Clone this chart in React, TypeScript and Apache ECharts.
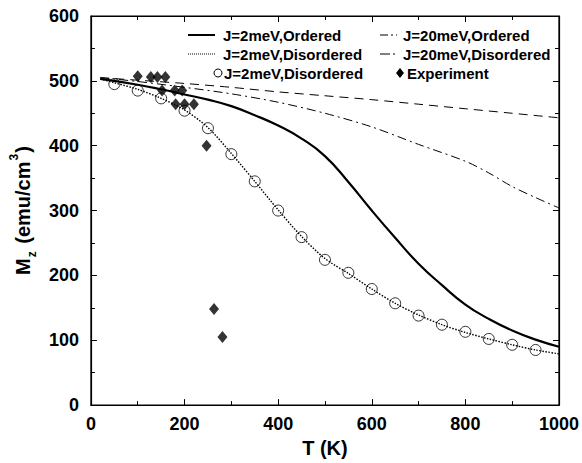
import React, { useEffect, useRef } from "react";
import * as echarts from "echarts";

// ---- data ----
const T_J2_ORD = [20, 100, 150, 200, 250, 300, 350, 400, 450, 500, 550, 600, 650, 700, 750, 800, 850, 900, 950, 1000];
const M_J2_ORD = [503, 494, 487, 479, 471, 461, 447, 431, 411, 384, 344, 300, 258, 218, 185, 155, 133, 115, 101, 90];

const T_J2_DIS = [20, 50, 100, 150, 200, 250, 300, 350, 400, 450, 500, 550, 600, 650, 700, 750, 800, 850, 900, 950, 1000];
const M_J2_DIS = [503, 497, 487, 473, 455, 428, 388, 345, 301, 260, 226, 203, 179, 157, 139, 124, 112, 102, 93, 85, 79];

const T_J20_ORD = [20, 100, 200, 300, 400, 500, 600, 700, 800, 900, 1000];
const M_J20_ORD = [505, 501, 496, 490, 483, 477, 471, 464, 457, 450, 443];

const T_J20_DIS = [20, 100, 200, 300, 400, 500, 600, 700, 800, 850, 900, 950, 1000];
const M_J20_DIS = [505, 499, 490, 480, 467, 450, 429, 402, 376, 358, 337, 320, 304];

const T_CIRCLES = [50, 100, 150, 200, 250, 300, 350, 400, 450, 500, 550, 600, 650, 700, 750, 800, 850, 900, 950];
const M_CIRCLES = [495, 485, 473, 454, 427, 387, 345, 300, 259, 224, 204, 179, 157, 138, 124, 113, 102, 93, 85];

const T_EXP = [100, 128, 142, 159, 152, 179, 195, 181, 200, 220, 247, 263, 281];
const M_EXP = [507, 506, 506, 506, 485, 485, 485, 464, 464, 464, 400, 148, 105];

const X_TICKS = { min: 0, max: 1000, interval: 200 };
const Y_TICKS = { min: 0, max: 600, interval: 100 };

const LEGEND_NAMES = [
  "J=2meV,Ordered",
  "J=2meV,Disordered",
  "J=2meV,Disordered",
  "J=20meV,Ordered",
  "J=20meV,Disordered",
  "Experiment",
];

const FONT = "'Liberation Sans', Arial, Helvetica, sans-serif";

const zip = (xs: number[], ys: number[]) => xs.map((x, i) => [x, ys[i]]);

export default function App() {
  const ref = useRef<HTMLDivElement>(null);

  useEffect(() => {
    document.body.style.margin = "0";
    if (!ref.current) return;
    const chart = echarts.init(ref.current, undefined, { renderer: "svg" });

    const axisCommon = {
      type: "value" as const,
      axisLine: { show: true, onZero: false, lineStyle: { color: "#000", width: 1.2 } },
      axisTick: { show: true, inside: true, length: 6, lineStyle: { color: "#000", width: 1 } },
      minorTick: { show: true, splitNumber: 2, length: 4, lineStyle: { color: "#000", width: 1 } },
      splitLine: { show: false },
      minorSplitLine: { show: false },
    };

    const labelStyle = {
      color: "#000",
      fontSize: 18,
      fontWeight: "bold" as const,
      fontFamily: FONT,
      formatter: (v: number) => String(v),
    };

    const legendRow = [35, 54, 73];
    const legendText = (x: number, y: number, text: string) => ({
      type: "text",
      x,
      y,
      style: {
        text,
        fill: "#000",
        font: `bold 15px ${FONT}`,
        textVerticalAlign: "middle",
        textAlign: "left",
      },
    });

    const graphic: any[] = [
      // column 1
      { type: "line", shape: { x1: 188, y1: legendRow[0], x2: 215, y2: legendRow[0] }, style: { stroke: "#000", lineWidth: 2 } },
      legendText(223, legendRow[0], LEGEND_NAMES[0]),
      { type: "line", shape: { x1: 188, y1: legendRow[1], x2: 215, y2: legendRow[1] }, style: { stroke: "#000", lineWidth: 1.2, lineDash: [1, 1] } },
      legendText(223, legendRow[1], LEGEND_NAMES[1]),
      { type: "circle", shape: { cx: 218, cy: legendRow[2], r: 4 }, style: { fill: "#fff", stroke: "#000", lineWidth: 1 } },
      legendText(224, legendRow[2], LEGEND_NAMES[2]),
      // column 2
      { type: "line", shape: { x1: 380, y1: legendRow[0], x2: 397, y2: legendRow[0] }, style: { stroke: "#000", lineWidth: 1, lineDash: [8, 3, 2, 3] } },
      legendText(403, legendRow[0], LEGEND_NAMES[3]),
      { type: "line", shape: { x1: 380, y1: legendRow[1], x2: 397, y2: legendRow[1] }, style: { stroke: "#000", lineWidth: 1, lineDash: [10, 3, 2, 3] } },
      legendText(403, legendRow[1], LEGEND_NAMES[4]),
      { type: "polygon", shape: { points: [[400, legendRow[2] - 5], [404, legendRow[2]], [400, legendRow[2] + 5], [396, legendRow[2]]] }, style: { fill: "#000" } },
      legendText(407, legendRow[2], LEGEND_NAMES[5]),
    ];

    chart.setOption({
      animation: false,
      backgroundColor: "#fff",
      grid: { left: 89, top: 16, width: 472, height: 396, show: true, borderColor: "#000", borderWidth: 1.2, backgroundColor: "transparent" },
      xAxis: [
        {
          ...axisCommon,
          ...X_TICKS,
          position: "bottom",
          axisLabel: { ...labelStyle, margin: 10 },
          name: "T (K)",
          nameLocation: "middle",
          nameGap: 28,
          nameTextStyle: { color: "#000", fontSize: 20, fontWeight: "bold", fontFamily: FONT },
        },
        {
          ...axisCommon,
          ...X_TICKS,
          position: "top",
          axisLabel: { show: false },
        },
      ],
      yAxis: [
        {
          ...axisCommon,
          ...Y_TICKS,
          position: "left",
          axisLabel: { ...labelStyle, margin: 12 },
          name: "{b|M}{sub|z}{b| (emu/cm}{sup|3}{b|)}",
          nameLocation: "middle",
          nameGap: 50,
          nameRotate: 90,
          nameTextStyle: {
            color: "#000",
            fontSize: 20,
            fontWeight: "bold",
            fontFamily: FONT,
            rich: {
              b: { fontSize: 20, fontWeight: "bold", fontFamily: FONT, color: "#000", lineHeight: 30, verticalAlign: "middle" },
              sub: { fontSize: 12, fontWeight: "bold", fontFamily: FONT, color: "#000", lineHeight: 30, verticalAlign: "bottom", padding: [0, 2, 0, 1] },
              sup: { fontSize: 12, fontWeight: "bold", fontFamily: FONT, color: "#000", lineHeight: 30, verticalAlign: "top", padding: [0, 1, 0, 1] },
            },
          },
        },
        {
          ...axisCommon,
          ...Y_TICKS,
          position: "right",
          axisLabel: { show: false },
        },
      ],
      graphic,
      series: [
        {
          name: LEGEND_NAMES[3],
          type: "line",
          data: zip(T_J20_ORD, M_J20_ORD),
          showSymbol: false,
          smooth: 0.3,
          lineStyle: { color: "#000", width: 1, type: [9, 6] },
        },
        {
          name: LEGEND_NAMES[4],
          type: "line",
          data: zip(T_J20_DIS, M_J20_DIS),
          showSymbol: false,
          smooth: 0.3,
          lineStyle: { color: "#000", width: 1, type: [9, 4, 2, 4] },
        },
        {
          name: LEGEND_NAMES[0],
          type: "line",
          data: zip(T_J2_ORD, M_J2_ORD),
          showSymbol: false,
          smooth: 0.5,
          lineStyle: { color: "#000", width: 2.2 },
        },
        {
          name: LEGEND_NAMES[1],
          type: "line",
          data: zip(T_J2_DIS, M_J2_DIS),
          showSymbol: false,
          smooth: 0.3,
          lineStyle: { color: "#000", width: 1.4, type: [1.5, 1.5] },
        },
        {
          name: LEGEND_NAMES[2] + " (points)",
          type: "scatter",
          data: zip(T_CIRCLES, M_CIRCLES),
          symbol: "circle",
          symbolSize: 11,
          itemStyle: { color: "#fff", borderColor: "#000", borderWidth: 1 },
        },
        {
          name: LEGEND_NAMES[5],
          type: "scatter",
          data: zip(T_EXP, M_EXP),
          symbol: "diamond",
          symbolSize: [10, 12],
          itemStyle: { color: "#000" },
        },
      ],
    });

    return () => chart.dispose();
  }, []);

  return <div ref={ref} style={{ width: 582, height: 463 }} />;
}
